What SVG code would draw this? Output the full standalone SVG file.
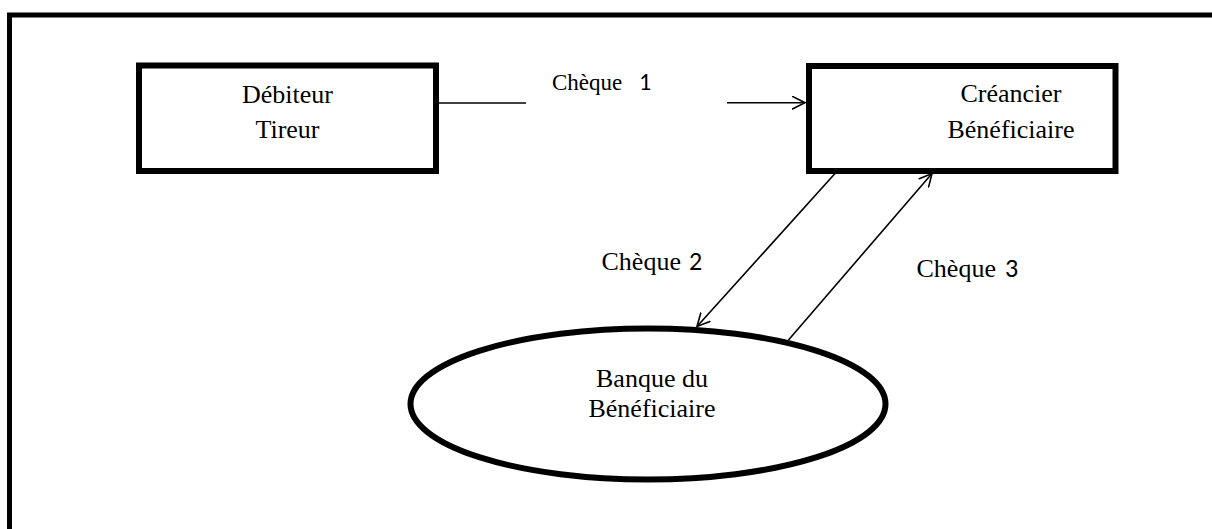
<svg xmlns="http://www.w3.org/2000/svg" width="1212" height="529" viewBox="0 0 1212 529">
<style>
.box{fill:#fff;stroke:#000;stroke-width:6}
.t{font-family:"Liberation Serif","Times New Roman",serif;font-size:26px;fill:#000}
.lbl{font-family:"Liberation Serif","Times New Roman",serif;font-size:26px;fill:#000}
.d{font-family:"Carlito","Liberation Sans",Arial,sans-serif;font-size:26px}
.c{fill:none;stroke:#000;stroke-width:1.6}
</style>
<defs>
<marker id="arr" viewBox="0 0 14 14" refX="13" refY="7" markerWidth="14" markerHeight="14" markerUnits="userSpaceOnUse" orient="auto">
<path d="M0,0.5 L13,7 L0,13.5" fill="none" stroke="#000" stroke-width="1.6"/>
</marker>
</defs>
<rect width="1212" height="529" fill="#fff"/>
<path d="M9.5,529 V15 H1212" fill="none" stroke="#000" stroke-width="5"/>
<g id="debiteur">
<rect class="box" x="139" y="65.5" width="297" height="105.5"/>
<text class="t" x="287.5" y="103" text-anchor="middle">Débiteur</text>
<text class="t" x="287.5" y="138" text-anchor="middle">Tireur</text>
</g>
<g id="creancier">
<rect class="box" x="809" y="66" width="306.5" height="105"/>
<text class="t" x="1011" y="102" text-anchor="middle">Créancier</text>
<text class="t" x="1011" y="138" text-anchor="middle">Bénéficiaire</text>
</g>
<g id="banque">
<ellipse class="box" cx="648" cy="404" rx="237.5" ry="75.5" stroke-width="5"/>
<text class="t" x="652" y="387" text-anchor="middle">Banque du</text>
<text class="t" x="652" y="417" text-anchor="middle">Bénéficiaire</text>
</g>
<g id="connectors">
<line class="c" x1="439" y1="103" x2="526" y2="103"/>
<line class="c" x1="727" y1="102.7" x2="805" y2="102.7" marker-end="url(#arr)"/>
<line class="c" x1="835" y1="173.5" x2="697" y2="326.5" marker-end="url(#arr)"/>
<line class="c" x1="788.5" y1="340" x2="932" y2="173.5" marker-end="url(#arr)"/>
<text class="lbl" x="552" y="90" style="font-size:23px">Chèque <tspan class="d" x="639" style="font-size:24px">1</tspan></text>
<text class="lbl" x="601.5" y="270">Chèque <tspan class="d" x="689">2</tspan></text>
<text class="lbl" x="916.5" y="277">Chèque <tspan class="d" x="1005">3</tspan></text>
</g>
</svg>
